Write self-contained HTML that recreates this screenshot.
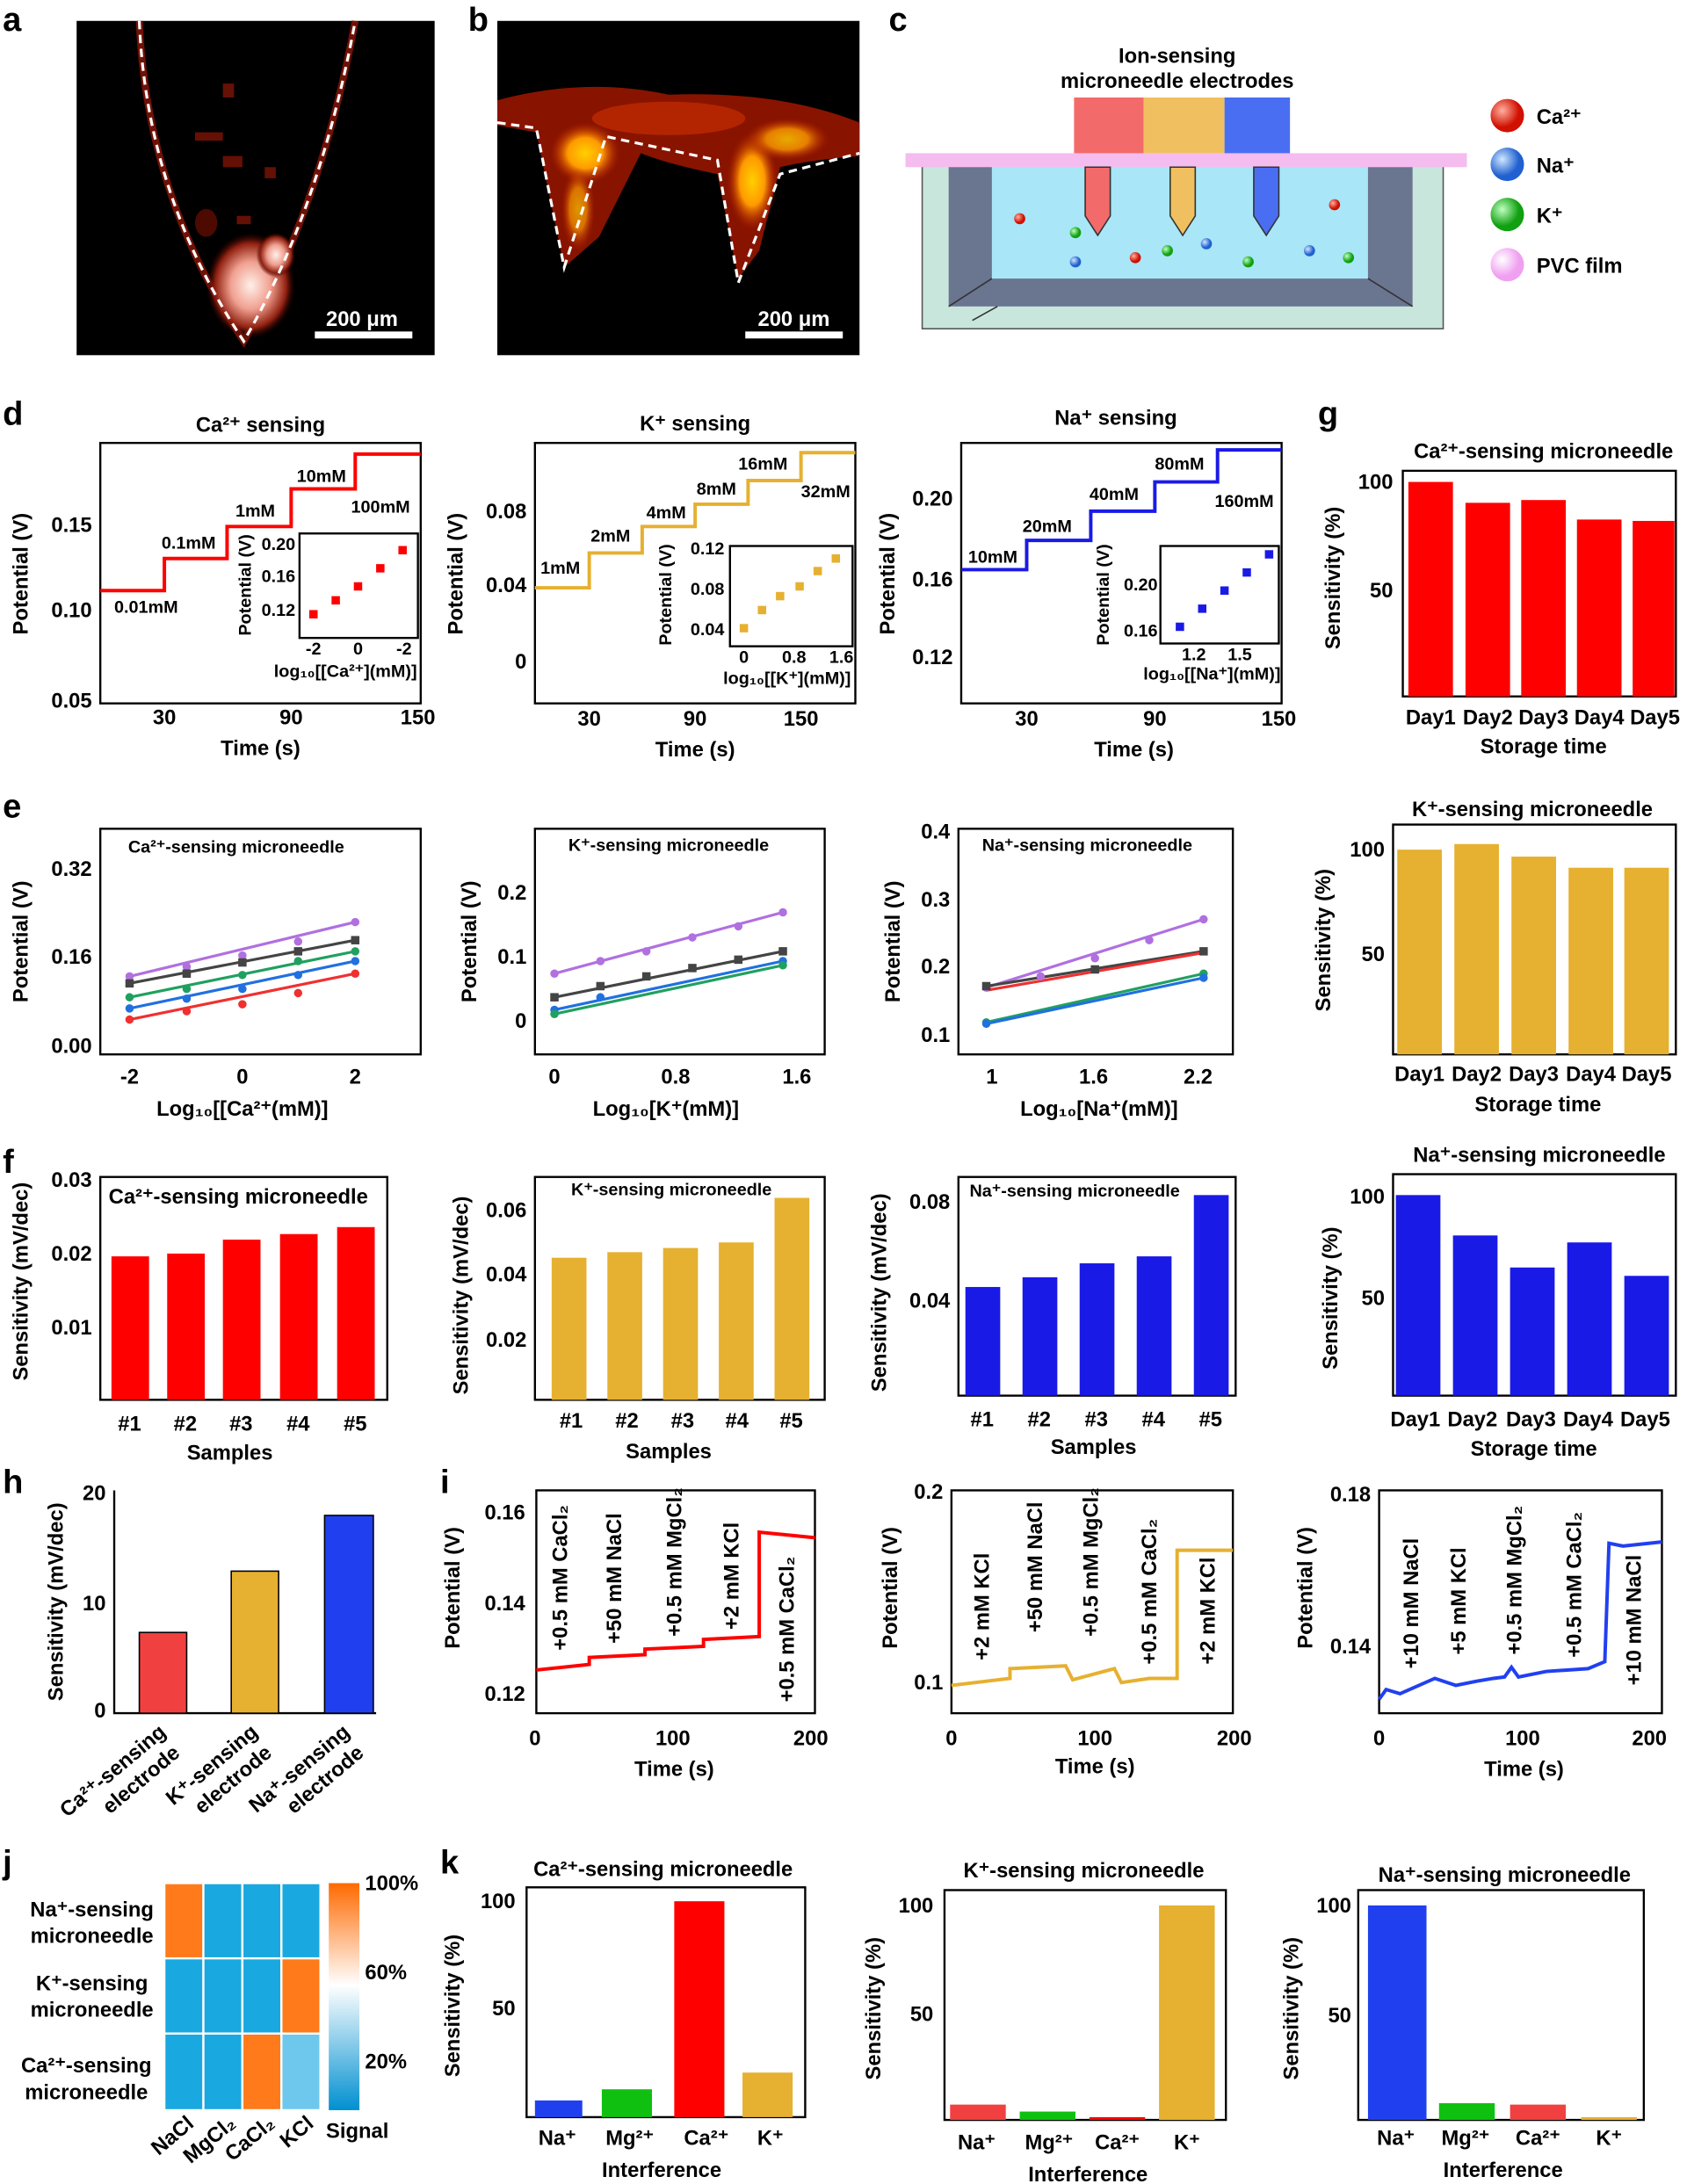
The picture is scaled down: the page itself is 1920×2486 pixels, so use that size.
<!DOCTYPE html>
<html><head><meta charset="utf-8"><style>
html,body{margin:0;padding:0;background:#fff}
svg{display:block}
text{font-family:"Liberation Sans",Arial,sans-serif;font-weight:bold;fill:#000}
.t{font-size:15px}
.s{font-size:12.5px}
.L{font-size:24px}
.ax{fill:none;stroke:#000;stroke-width:1.5}
</style></head><body>
<svg width="1920" height="2486" viewBox="0 0 1211 1568" xmlns="http://www.w3.org/2000/svg">
<defs>
<radialGradient id="glow" cx="50%" cy="50%" r="50%"><stop offset="0" stop-color="#fff5d0"/><stop offset=".35" stop-color="#ff9a20"/><stop offset=".7" stop-color="#c01800"/><stop offset="1" stop-color="#300000" stop-opacity="0"/></radialGradient>
<radialGradient id="wglow" cx="50%" cy="50%" r="50%"><stop offset="0" stop-color="#fff0ea"/><stop offset=".45" stop-color="#f0a090"/><stop offset=".8" stop-color="#902010"/><stop offset="1" stop-color="#300000" stop-opacity="0"/></radialGradient>
<radialGradient id="yglow" cx="50%" cy="50%" r="50%"><stop offset="0" stop-color="#ffd000"/><stop offset=".5" stop-color="#ff9a00"/><stop offset="1" stop-color="#c02000" stop-opacity="0"/></radialGradient>
<radialGradient id="rb" cx="35%" cy="35%"><stop offset="0" stop-color="#ffb0a0"/><stop offset="1" stop-color="#d01000"/></radialGradient>
<radialGradient id="bb" cx="35%" cy="35%"><stop offset="0" stop-color="#d0e8ff"/><stop offset="1" stop-color="#2060d0"/></radialGradient>
<radialGradient id="gb" cx="35%" cy="35%"><stop offset="0" stop-color="#c0ffc0"/><stop offset="1" stop-color="#10a010"/></radialGradient>
<radialGradient id="pb" cx="35%" cy="35%"><stop offset="0" stop-color="#fff"/><stop offset="1" stop-color="#f0a0f0"/></radialGradient>
<linearGradient id="cb" x1="0" y1="0" x2="0" y2="1"><stop offset="0" stop-color="#ff6a00"/><stop offset=".45" stop-color="#fff"/><stop offset="1" stop-color="#0090d0"/></linearGradient>
</defs>

<text class="L" x="2" y="22">a</text><text class="L" x="336" y="22">b</text><text class="L" x="638" y="22">c</text>
<text class="L" x="2" y="305">d</text><text class="L" x="946" y="305">g</text>
<text class="L" x="2" y="587">e</text><text class="L" x="2" y="842">f</text>
<text class="L" x="2" y="1072">h</text><text class="L" x="316" y="1072">i</text>
<text class="L" x="2" y="1345">j</text><text class="L" x="316" y="1345">k</text>

<!-- a -->
<rect x="55" y="15" width="257" height="240" fill="#000"/>
<path d="M100 15 Q105 140 175 245 Q230 150 255 15" fill="none" stroke="#a01808" stroke-width="5" opacity=".7"/>
<ellipse cx="180" cy="205" rx="32" ry="38" fill="url(#wglow)"/>
<ellipse cx="198" cy="183" rx="14" ry="16" fill="url(#wglow)"/>
<ellipse cx="148" cy="160" rx="8" ry="10" fill="#801000" opacity=".6"/>
<g fill="#901808" opacity=".7"><rect x="160" y="60" width="8" height="10"/><rect x="140" y="95" width="20" height="6"/><rect x="190" y="120" width="8" height="8"/><rect x="170" y="155" width="10" height="6"/><rect x="160" y="112" width="14" height="8"/></g>
<path d="M100 15 Q105 140 175 245 Q230 150 255 15" fill="none" stroke="#fff" stroke-width="2" stroke-dasharray="6,4"/>
<rect x="226" y="238" width="70" height="5" fill="#fff"/>
<text x="234" y="234" style="fill:#fff;font-size:15px">200 μm</text>
<!-- b -->
<rect x="357" y="15" width="260" height="240" fill="#000"/>
<path d="M357 72 Q420 55 480 68 Q560 65 617 88 L617 112 Q580 115 560 120 L545 180 L530 200 L515 125 Q480 118 460 110 L430 170 L405 192 L385 95 L357 90Z" fill="#a01800" opacity=".85"/>
<ellipse cx="420" cy="110" rx="25" ry="22" fill="url(#yglow)"/>
<ellipse cx="415" cy="150" rx="12" ry="30" fill="url(#yglow)" opacity=".7"/>
<ellipse cx="540" cy="130" rx="18" ry="35" fill="url(#yglow)"/>
<ellipse cx="565" cy="100" rx="30" ry="15" fill="url(#yglow)" opacity=".8"/>
<ellipse cx="480" cy="85" rx="55" ry="12" fill="#d03000" opacity=".6"/>
<path d="M357 88 L385 92 L405 192 L435 98 L515 115 L530 203 L560 125 L617 110" fill="none" stroke="#fff" stroke-width="2" stroke-dasharray="6,4"/>
<rect x="535" y="238" width="70" height="5" fill="#fff"/>
<text x="544" y="234" style="fill:#fff;font-size:15px">200 μm</text>
<!-- c -->
<rect x="662" y="118" width="374" height="118" fill="#c8e6dc" stroke="#555"/>
<rect x="681" y="118" width="333" height="102" fill="#6a7590"/>
<rect x="712" y="118" width="270" height="82" fill="#a8e6f8"/>
<path d="M681 220 L712 200 M1014 220 L982 200 M698 230 L716 220" stroke="#333"/>
<rect x="650" y="110" width="403" height="10" fill="#f4bcef"/>
<rect x="771" y="70" width="50" height="40" fill="#f26a6a"/><rect x="821" y="70" width="58" height="40" fill="#f0c060"/><rect x="879" y="70" width="47" height="40" fill="#4a6ef2"/>
<path d="M779 120 h18 v35 l-9 14 l-9 -14z" fill="#f26a6a" stroke="#333"/>
<path d="M840 120 h18 v35 l-9 14 l-9 -14z" fill="#f0c060" stroke="#333"/>
<path d="M900 120 h18 v35 l-9 14 l-9 -14z" fill="#4a6ef2" stroke="#333"/>
<text class="t" x="845" y="45" text-anchor="middle">Ion-sensing</text><text class="t" x="845" y="63" text-anchor="middle">microneedle electrodes</text>
<circle cx="732" cy="157" r="4" fill="url(#rb)"/><circle cx="772" cy="167" r="4" fill="url(#gb)"/><circle cx="772" cy="188" r="4" fill="url(#bb)"/><circle cx="815" cy="185" r="4" fill="url(#rb)"/><circle cx="866" cy="175" r="4" fill="url(#bb)"/><circle cx="896" cy="188" r="4" fill="url(#gb)"/><circle cx="958" cy="147" r="4" fill="url(#rb)"/><circle cx="940" cy="180" r="4" fill="url(#bb)"/><circle cx="968" cy="185" r="4" fill="url(#gb)"/><circle cx="838" cy="180" r="4" fill="url(#gb)"/>
<circle cx="1082" cy="83" r="12" fill="url(#rb)"/><circle cx="1082" cy="118" r="12" fill="url(#bb)"/><circle cx="1082" cy="154" r="12" fill="url(#gb)"/><circle cx="1082" cy="190" r="12" fill="url(#pb)"/>
<text class="t" x="1103" y="89">Ca²⁺</text><text class="t" x="1103" y="124">Na⁺</text><text class="t" x="1103" y="160">K⁺</text><text class="t" x="1103" y="196">PVC film</text>

<!-- d Ca -->
<text class="t" x="187" y="310" text-anchor="middle">Ca²⁺ sensing</text>
<rect class="ax" x="72" y="318" width="230" height="187"/>
<g class="t" text-anchor="end"><text x="66" y="382">0.15</text><text x="66" y="443">0.10</text><text x="66" y="508">0.05</text></g>
<g class="t" text-anchor="middle"><text x="118" y="520">30</text><text x="209" y="520">90</text><text x="300" y="520">150</text><text x="187" y="542">Time (s)</text></g>
<text class="t" transform="translate(20,412) rotate(-90)" text-anchor="middle">Potential (V)</text>
<path d="M72 424 H118 V401 H163 V378 H209 V351 H255 V326 H302" fill="none" stroke="#f00" stroke-width="2.5"/>
<g class="s"><text x="82" y="440">0.01mM</text><text x="116" y="394">0.1mM</text><text x="169" y="371">1mM</text><text x="213" y="346">10mM</text><text x="252" y="368">100mM</text></g>
<rect class="ax" x="215" y="383" width="85" height="75" stroke-width="1"/>
<g class="s" text-anchor="end"><text x="212" y="395">0.20</text><text x="212" y="418">0.16</text><text x="212" y="442">0.12</text></g>
<g class="s" text-anchor="middle"><text x="225" y="470">-2</text><text x="257" y="470">0</text><text x="290" y="470">-2</text><text x="248" y="486">log₁₀[[Ca²⁺](mM)]</text></g>
<text class="s" transform="translate(180,420) rotate(-90)" text-anchor="middle">Potential (V)</text>
<g fill="#f00"><rect x="222" y="438" width="6" height="6"/><rect x="238" y="428" width="6" height="6"/><rect x="254" y="418" width="6" height="6"/><rect x="270" y="405" width="6" height="6"/><rect x="286" y="392" width="6" height="6"/></g>

<!-- d K -->
<text class="t" x="499" y="309" text-anchor="middle">K⁺ sensing</text>
<rect class="ax" x="384" y="318" width="230" height="187"/>
<g class="t" text-anchor="end"><text x="378" y="372">0.08</text><text x="378" y="425">0.04</text><text x="378" y="480">0</text></g>
<g class="t" text-anchor="middle"><text x="423" y="521">30</text><text x="499" y="521">90</text><text x="575" y="521">150</text><text x="499" y="543">Time (s)</text></g>
<text class="t" transform="translate(332,412) rotate(-90)" text-anchor="middle">Potential (V)</text>
<path d="M384 422 H423 V397 H461 V378 H499 V362 H537 V345 H575 V325 H614" fill="none" stroke="#e6b030" stroke-width="2.5"/>
<g class="s"><text x="388" y="412">1mM</text><text x="424" y="389">2mM</text><text x="464" y="372">4mM</text><text x="500" y="355">8mM</text><text x="530" y="337">16mM</text><text x="575" y="357">32mM</text></g>
<rect class="ax" x="524" y="392" width="88" height="72" stroke-width="1"/>
<g class="s" text-anchor="end"><text x="520" y="398">0.12</text><text x="520" y="427">0.08</text><text x="520" y="456">0.04</text></g>
<g class="s" text-anchor="middle"><text x="534" y="476">0</text><text x="570" y="476">0.8</text><text x="604" y="476">1.6</text><text x="565" y="491">log₁₀[[K⁺](mM)]</text></g>
<text class="s" transform="translate(482,427) rotate(-90)" text-anchor="middle">Potential (V)</text>
<g fill="#e6b030"><rect x="531" y="448" width="6" height="6"/><rect x="544" y="435" width="6" height="6"/><rect x="557" y="425" width="6" height="6"/><rect x="571" y="418" width="6" height="6"/><rect x="584" y="407" width="6" height="6"/><rect x="597" y="398" width="6" height="6"/></g>

<!-- d Na -->
<text class="t" x="801" y="305" text-anchor="middle">Na⁺ sensing</text>
<rect class="ax" x="690" y="318" width="230" height="187"/>
<g class="t" text-anchor="end"><text x="684" y="363">0.20</text><text x="684" y="421">0.16</text><text x="684" y="477">0.12</text></g>
<g class="t" text-anchor="middle"><text x="737" y="521">30</text><text x="829" y="521">90</text><text x="918" y="521">150</text><text x="814" y="543">Time (s)</text></g>
<text class="t" transform="translate(642,412) rotate(-90)" text-anchor="middle">Potential (V)</text>
<path d="M690 409 H737 V388 H783 V367 H829 V346 H874 V323 H920" fill="none" stroke="#1a1ae6" stroke-width="2.5"/>
<g class="s"><text x="695" y="404">10mM</text><text x="734" y="382">20mM</text><text x="782" y="359">40mM</text><text x="829" y="337">80mM</text><text x="872" y="364">160mM</text></g>
<rect class="ax" x="833" y="392" width="85" height="70" stroke-width="1"/>
<g class="s" text-anchor="end"><text x="831" y="424">0.20</text><text x="831" y="457">0.16</text></g>
<g class="s" text-anchor="middle"><text x="857" y="474">1.2</text><text x="890" y="474">1.5</text><text x="870" y="488">log₁₀[[Na⁺](mM)]</text></g>
<text class="s" transform="translate(796,427) rotate(-90)" text-anchor="middle">Potential (V)</text>
<g fill="#1a1ae6"><rect x="844" y="447" width="6" height="6"/><rect x="860" y="434" width="6" height="6"/><rect x="876" y="421" width="6" height="6"/><rect x="892" y="408" width="6" height="6"/><rect x="908" y="395" width="6" height="6"/></g>

<!-- g1 -->
<text class="t" x="1108" y="329" text-anchor="middle">Ca²⁺-sensing microneedle</text>
<rect class="ax" x="1007" y="338" width="196" height="162"/>
<g class="t" text-anchor="end"><text x="1000" y="351">100</text><text x="1000" y="429">50</text></g>
<text class="t" transform="translate(962,415) rotate(-90)" text-anchor="middle">Sensitivity (%)</text>
<g fill="#f00"><rect x="1011" y="346" width="32" height="154"/><rect x="1052" y="361" width="32" height="139"/><rect x="1092" y="359" width="32" height="141"/><rect x="1132" y="373" width="32" height="127"/><rect x="1172" y="374" width="30" height="126"/></g>
<g class="t" text-anchor="middle"><text x="1027" y="520">Day1</text><text x="1068" y="520">Day2</text><text x="1108" y="520">Day3</text><text x="1148" y="520">Day4</text><text x="1188" y="520">Day5</text><text x="1108" y="541">Storage time</text></g>

<!-- e Ca -->
<rect class="ax" x="72" y="595" width="230" height="162"/>
<text class="s" x="92" y="612">Ca²⁺-sensing microneedle</text>
<g class="t" text-anchor="end"><text x="66" y="629">0.32</text><text x="66" y="692">0.16</text><text x="66" y="756">0.00</text></g>
<g class="t" text-anchor="middle"><text x="93" y="778">-2</text><text x="174" y="778">0</text><text x="255" y="778">2</text><text x="174" y="801">Log₁₀[[Ca²⁺(mM)]</text></g>
<text class="t" transform="translate(20,676) rotate(-90)" text-anchor="middle">Potential (V)</text>
<g stroke-width="2" fill="none"><path d="M93 701 L255 662" stroke="#b070e0"/><path d="M93 706 L255 675" stroke="#444"/><path d="M93 716 L255 683" stroke="#20a060"/><path d="M93 724 L255 690" stroke="#2070e0"/><path d="M93 732 L255 699" stroke="#f03030"/></g>
<g><circle cx="93" cy="701" r="3" fill="#b070e0"/><circle cx="134" cy="694" r="3" fill="#b070e0"/><circle cx="174" cy="686" r="3" fill="#b070e0"/><circle cx="214" cy="676" r="3" fill="#b070e0"/><circle cx="255" cy="662" r="3" fill="#b070e0"/>
<rect x="90" y="703" width="6" height="6" fill="#444"/><rect x="131" y="696" width="6" height="6" fill="#444"/><rect x="171" y="688" width="6" height="6" fill="#444"/><rect x="211" y="680" width="6" height="6" fill="#444"/><rect x="252" y="672" width="6" height="6" fill="#444"/>
<circle cx="93" cy="716" r="3" fill="#20a060"/><circle cx="134" cy="710" r="3" fill="#20a060"/><circle cx="174" cy="700" r="3" fill="#20a060"/><circle cx="214" cy="690" r="3" fill="#20a060"/><circle cx="255" cy="683" r="3" fill="#20a060"/>
<circle cx="93" cy="724" r="3" fill="#2070e0"/><circle cx="134" cy="717" r="3" fill="#2070e0"/><circle cx="174" cy="710" r="3" fill="#2070e0"/><circle cx="214" cy="700" r="3" fill="#2070e0"/><circle cx="255" cy="690" r="3" fill="#2070e0"/>
<circle cx="93" cy="732" r="3" fill="#f03030"/><circle cx="134" cy="726" r="3" fill="#f03030"/><circle cx="174" cy="721" r="3" fill="#f03030"/><circle cx="214" cy="713" r="3" fill="#f03030"/><circle cx="255" cy="699" r="3" fill="#f03030"/></g>

<!-- e K -->
<rect class="ax" x="384" y="595" width="208" height="162"/>
<text class="s" x="408" y="611">K⁺-sensing microneedle</text>
<g class="t" text-anchor="end"><text x="378" y="646">0.2</text><text x="378" y="692">0.1</text><text x="378" y="738">0</text></g>
<g class="t" text-anchor="middle"><text x="398" y="778">0</text><text x="485" y="778">0.8</text><text x="572" y="778">1.6</text><text x="478" y="801">Log₁₀[K⁺(mM)]</text></g>
<text class="t" transform="translate(342,676) rotate(-90)" text-anchor="middle">Potential (V)</text>
<g stroke-width="2" fill="none"><path d="M398 699 L562 655" stroke="#b070e0"/><path d="M398 716 L562 683" stroke="#444"/><path d="M398 725 L562 690" stroke="#2070e0"/><path d="M398 728 L562 693" stroke="#20a060"/></g>
<g><circle cx="398" cy="699" r="3" fill="#b070e0"/><circle cx="431" cy="690" r="3" fill="#b070e0"/><circle cx="464" cy="683" r="3" fill="#b070e0"/><circle cx="497" cy="673" r="3" fill="#b070e0"/><circle cx="530" cy="665" r="3" fill="#b070e0"/><circle cx="562" cy="655" r="3" fill="#b070e0"/>
<rect x="395" y="713" width="6" height="6" fill="#444"/><rect x="428" y="705" width="6" height="6" fill="#444"/><rect x="461" y="698" width="6" height="6" fill="#444"/><rect x="494" y="692" width="6" height="6" fill="#444"/><rect x="527" y="686" width="6" height="6" fill="#444"/><rect x="559" y="680" width="6" height="6" fill="#444"/>
<circle cx="398" cy="725" r="3" fill="#2070e0"/><circle cx="431" cy="716" r="3" fill="#2070e0"/><circle cx="562" cy="690" r="3" fill="#2070e0"/><circle cx="398" cy="728" r="3" fill="#20a060"/><circle cx="562" cy="693" r="3" fill="#20a060"/></g>

<!-- e Na -->
<rect class="ax" x="688" y="595" width="197" height="162"/>
<text class="s" x="705" y="611">Na⁺-sensing microneedle</text>
<g class="t" text-anchor="end"><text x="682" y="602">0.4</text><text x="682" y="651">0.3</text><text x="682" y="699">0.2</text><text x="682" y="748">0.1</text></g>
<g class="t" text-anchor="middle"><text x="712" y="778">1</text><text x="785" y="778">1.6</text><text x="860" y="778">2.2</text><text x="789" y="801">Log₁₀[Na⁺(mM)]</text></g>
<text class="t" transform="translate(646,676) rotate(-90)" text-anchor="middle">Potential (V)</text>
<g stroke-width="2" fill="none"><path d="M708 709 L864 660" stroke="#b070e0"/><path d="M708 708 L864 683" stroke="#444"/><path d="M708 711 L864 684" stroke="#f03030"/><path d="M708 734 L864 699" stroke="#20a060"/><path d="M708 735 L864 702" stroke="#2070e0"/></g>
<g><circle cx="708" cy="709" r="3" fill="#b070e0"/><circle cx="747" cy="701" r="3" fill="#b070e0"/><circle cx="786" cy="688" r="3" fill="#b070e0"/><circle cx="825" cy="675" r="3" fill="#b070e0"/><circle cx="864" cy="660" r="3" fill="#b070e0"/>
<rect x="705" y="705" width="6" height="6" fill="#444"/><rect x="783" y="693" width="6" height="6" fill="#444"/><rect x="861" y="680" width="6" height="6" fill="#444"/>
<circle cx="708" cy="734" r="3" fill="#20a060"/><circle cx="864" cy="699" r="3" fill="#20a060"/><circle cx="708" cy="735" r="3" fill="#2070e0"/><circle cx="864" cy="702" r="3" fill="#2070e0"/></g>

<!-- g2 -->
<text class="t" x="1100" y="586" text-anchor="middle">K⁺-sensing microneedle</text>
<rect class="ax" x="1000" y="592" width="203" height="165"/>
<g class="t" text-anchor="end"><text x="994" y="615">100</text><text x="994" y="690">50</text></g>
<text class="t" transform="translate(955,675) rotate(-90)" text-anchor="middle">Sensitivity (%)</text>
<g fill="#e6b030"><rect x="1003" y="610" width="32" height="147"/><rect x="1044" y="606" width="32" height="151"/><rect x="1085" y="615" width="32" height="142"/><rect x="1126" y="623" width="32" height="134"/><rect x="1166" y="623" width="32" height="134"/></g>
<g class="t" text-anchor="middle"><text x="1019" y="776">Day1</text><text x="1060" y="776">Day2</text><text x="1101" y="776">Day3</text><text x="1142" y="776">Day4</text><text x="1182" y="776">Day5</text><text x="1104" y="798">Storage time</text></g>

<!-- f Ca -->
<rect class="ax" x="72" y="845" width="206" height="160"/>
<text class="t" x="78" y="864">Ca²⁺-sensing microneedle</text>
<g class="t" text-anchor="end"><text x="66" y="852">0.03</text><text x="66" y="905">0.02</text><text x="66" y="958">0.01</text></g>
<text class="t" transform="translate(20,920) rotate(-90)" text-anchor="middle">Sensitivity (mV/dec)</text>
<g fill="#f00"><rect x="80" y="902" width="27" height="103"/><rect x="120" y="900" width="27" height="105"/><rect x="160" y="890" width="27" height="115"/><rect x="201" y="886" width="27" height="119"/><rect x="242" y="881" width="27" height="124"/></g>
<g class="t" text-anchor="middle"><text x="93" y="1027">#1</text><text x="133" y="1027">#2</text><text x="173" y="1027">#3</text><text x="214" y="1027">#4</text><text x="255" y="1027">#5</text><text x="165" y="1048">Samples</text></g>

<!-- f K -->
<rect class="ax" x="384" y="845" width="208" height="160"/>
<text class="s" x="410" y="858">K⁺-sensing microneedle</text>
<g class="t" text-anchor="end"><text x="378" y="874">0.06</text><text x="378" y="920">0.04</text><text x="378" y="967">0.02</text></g>
<text class="t" transform="translate(336,930) rotate(-90)" text-anchor="middle">Sensitivity (mV/dec)</text>
<g fill="#e6b030"><rect x="396" y="903" width="25" height="102"/><rect x="436" y="899" width="25" height="106"/><rect x="476" y="896" width="25" height="109"/><rect x="516" y="892" width="25" height="113"/><rect x="556" y="860" width="25" height="145"/></g>
<g class="t" text-anchor="middle"><text x="410" y="1025">#1</text><text x="450" y="1025">#2</text><text x="490" y="1025">#3</text><text x="529" y="1025">#4</text><text x="568" y="1025">#5</text><text x="480" y="1047">Samples</text></g>

<!-- f Na -->
<rect class="ax" x="688" y="845" width="199" height="157"/>
<text class="s" x="696" y="859">Na⁺-sensing microneedle</text>
<g class="t" text-anchor="end"><text x="682" y="868">0.08</text><text x="682" y="939">0.04</text></g>
<text class="t" transform="translate(636,928) rotate(-90)" text-anchor="middle">Sensitivity (mV/dec)</text>
<g fill="#1a1ae6"><rect x="693" y="924" width="25" height="78"/><rect x="734" y="917" width="25" height="85"/><rect x="775" y="907" width="25" height="95"/><rect x="816" y="902" width="25" height="100"/><rect x="857" y="858" width="25" height="144"/></g>
<g class="t" text-anchor="middle"><text x="705" y="1024">#1</text><text x="746" y="1024">#2</text><text x="787" y="1024">#3</text><text x="828" y="1024">#4</text><text x="869" y="1024">#5</text><text x="785" y="1044">Samples</text></g>

<!-- g3 -->
<text class="t" x="1105" y="834" text-anchor="middle">Na⁺-sensing microneedle</text>
<rect class="ax" x="1000" y="843" width="203" height="159"/>
<g class="t" text-anchor="end"><text x="994" y="864">100</text><text x="994" y="937">50</text></g>
<text class="t" transform="translate(960,932) rotate(-90)" text-anchor="middle">Sensitivity (%)</text>
<g fill="#1a1ae6"><rect x="1002" y="858" width="32" height="144"/><rect x="1043" y="887" width="32" height="115"/><rect x="1084" y="910" width="32" height="92"/><rect x="1125" y="892" width="32" height="110"/><rect x="1166" y="916" width="32" height="86"/></g>
<g class="t" text-anchor="middle"><text x="1016" y="1024">Day1</text><text x="1057" y="1024">Day2</text><text x="1099" y="1024">Day3</text><text x="1140" y="1024">Day4</text><text x="1181" y="1024">Day5</text><text x="1101" y="1045">Storage time</text></g>

<!-- h -->
<path class="ax" d="M82 1070 V1230 H270"/>
<g class="t" text-anchor="end"><text x="76" y="1077">20</text><text x="76" y="1156">10</text><text x="76" y="1233">0</text></g>
<text class="t" transform="translate(45,1150) rotate(-90)" text-anchor="middle">Sensitivity (mV/dec)</text>
<rect x="100" y="1172" width="34" height="58" fill="#f04040" stroke="#000"/><rect x="166" y="1128" width="34" height="102" fill="#e6b030" stroke="#000"/><rect x="233" y="1088" width="35" height="142" fill="#2040f0" stroke="#000"/>
<g class="t" text-anchor="end"><text transform="translate(120,1245) rotate(-40)">Ca²⁺-sensing</text><text transform="translate(130,1260) rotate(-40)">electrode</text>
<text transform="translate(186,1245) rotate(-40)">K⁺-sensing</text><text transform="translate(196,1260) rotate(-40)">electrode</text>
<text transform="translate(252,1245) rotate(-40)">Na⁺-sensing</text><text transform="translate(262,1260) rotate(-40)">electrode</text></g>

<!-- i Ca -->
<rect class="ax" x="385" y="1070" width="200" height="160"/>
<g class="t" text-anchor="end"><text x="377" y="1091">0.16</text><text x="377" y="1156">0.14</text><text x="377" y="1221">0.12</text></g>
<g class="t" text-anchor="middle"><text x="384" y="1253">0</text><text x="483" y="1253">100</text><text x="582" y="1253">200</text><text x="484" y="1275">Time (s)</text></g>
<text class="t" transform="translate(330,1140) rotate(-90)" text-anchor="middle">Potential (V)</text>
<path d="M385 1199 L423 1195 V1190 L463 1188 V1184 L505 1182 V1177 L545 1175 V1100 L585 1104" fill="none" stroke="#f00" stroke-width="2.5"/>
<g class="t"><text transform="translate(407,1185) rotate(-90)">+0.5 mM CaCl₂</text><text transform="translate(446,1180) rotate(-90)">+50 mM NaCl</text><text transform="translate(489,1175) rotate(-90)">+0.5 mM MgCl₂</text><text transform="translate(530,1170) rotate(-90)">+2 mM KCl</text><text transform="translate(570,1222) rotate(-90)">+0.5 mM CaCl₂</text></g>

<!-- i K -->
<rect class="ax" x="683" y="1070" width="202" height="160"/>
<g class="t" text-anchor="end"><text x="677" y="1076">0.2</text><text x="677" y="1213">0.1</text></g>
<g class="t" text-anchor="middle"><text x="683" y="1253">0</text><text x="786" y="1253">100</text><text x="886" y="1253">200</text><text x="786" y="1273">Time (s)</text></g>
<text class="t" transform="translate(644,1140) rotate(-90)" text-anchor="middle">Potential (V)</text>
<path d="M683 1210 L725 1205 V1198 L765 1196 L770 1206 L785 1202 L800 1198 L805 1208 L825 1205 L845 1205 V1113 L885 1113" fill="none" stroke="#e6b030" stroke-width="2.5"/>
<g class="t"><text transform="translate(710,1192) rotate(-90)">+2 mM KCl</text><text transform="translate(748,1172) rotate(-90)">+50 mM NaCl</text><text transform="translate(788,1175) rotate(-90)">+0.5 mM MgCl₂</text><text transform="translate(830,1195) rotate(-90)">+0.5 mM CaCl₂</text><text transform="translate(872,1195) rotate(-90)">+2 mM KCl</text></g>

<!-- i Na -->
<rect class="ax" x="990" y="1070" width="203" height="160"/>
<g class="t" text-anchor="end"><text x="984" y="1078">0.18</text><text x="984" y="1187">0.14</text></g>
<g class="t" text-anchor="middle"><text x="990" y="1253">0</text><text x="1093" y="1253">100</text><text x="1184" y="1253">200</text><text x="1094" y="1275">Time (s)</text></g>
<text class="t" transform="translate(942,1140) rotate(-90)" text-anchor="middle">Potential (V)</text>
<path d="M990 1220 L995 1213 L1005 1216 L1030 1205 L1045 1210 L1060 1207 L1072 1205 L1080 1204 L1085 1197 L1090 1204 L1110 1200 L1140 1198 L1152 1193 L1155 1108 L1165 1110 L1193 1107" fill="none" stroke="#2040f0" stroke-width="2.5"/>
<g class="t"><text transform="translate(1018,1198) rotate(-90)">+10 mM NaCl</text><text transform="translate(1052,1188) rotate(-90)">+5 mM KCl</text><text transform="translate(1092,1188) rotate(-90)">+0.5 mM MgCl₂</text><text transform="translate(1135,1190) rotate(-90)">+0.5 mM CaCl₂</text><text transform="translate(1178,1210) rotate(-90)">+10 mM NaCl</text></g>

<!-- j -->
<g stroke="#fff" stroke-width="1.5">
<rect x="118" y="1352" width="28" height="54" fill="#ff7a1a"/><rect x="146" y="1352" width="28" height="54" fill="#1aa8e0"/><rect x="174" y="1352" width="28" height="54" fill="#1aa8e0"/><rect x="202" y="1352" width="28" height="54" fill="#1aa8e0"/>
<rect x="118" y="1406" width="28" height="54" fill="#1aa8e0"/><rect x="146" y="1406" width="28" height="54" fill="#1aa8e0"/><rect x="174" y="1406" width="28" height="54" fill="#1aa8e0"/><rect x="202" y="1406" width="28" height="54" fill="#ff7a1a"/>
<rect x="118" y="1460" width="28" height="55" fill="#1aa8e0"/><rect x="146" y="1460" width="28" height="55" fill="#1aa8e0"/><rect x="174" y="1460" width="28" height="55" fill="#ff7a1a"/><rect x="202" y="1460" width="28" height="55" fill="#6ec8ee"/></g>
<rect x="236" y="1352" width="22" height="163" fill="url(#cb)"/>
<g class="t"><text x="262" y="1357">100%</text><text x="262" y="1421">60%</text><text x="262" y="1485">20%</text><text x="234" y="1535">Signal</text></g>
<g class="t" text-anchor="middle"><text x="66" y="1376">Na⁺-sensing</text><text x="66" y="1395">microneedle</text><text x="66" y="1429">K⁺-sensing</text><text x="66" y="1448">microneedle</text><text x="62" y="1488">Ca²⁺-sensing</text><text x="62" y="1507">microneedle</text></g>
<g class="t" text-anchor="end"><text transform="translate(140,1526) rotate(-40)">NaCl</text><text transform="translate(170,1526) rotate(-40)">MgCl₂</text><text transform="translate(198,1526) rotate(-40)">CaCl₂</text><text transform="translate(226,1526) rotate(-40)">KCl</text></g>

<!-- k Ca -->
<text class="t" x="476" y="1347" text-anchor="middle">Ca²⁺-sensing microneedle</text>
<rect class="ax" x="378" y="1355" width="200" height="165"/>
<g class="t" text-anchor="end"><text x="370" y="1370">100</text><text x="370" y="1447">50</text></g>
<text class="t" transform="translate(330,1440) rotate(-90)" text-anchor="middle">Sensitivity (%)</text>
<rect x="384" y="1508" width="34" height="12" fill="#2040f0"/><rect x="432" y="1500" width="36" height="20" fill="#10c010"/><rect x="484" y="1365" width="36" height="155" fill="#f00"/><rect x="533" y="1488" width="36" height="32" fill="#e6b030"/>
<g class="t" text-anchor="middle"><text x="400" y="1540">Na⁺</text><text x="452" y="1540">Mg²⁺</text><text x="507" y="1540">Ca²⁺</text><text x="553" y="1540">K⁺</text><text x="475" y="1563">Interference</text></g>

<!-- k K -->
<text class="t" x="778" y="1348" text-anchor="middle">K⁺-sensing microneedle</text>
<rect class="ax" x="678" y="1357" width="202" height="165"/>
<g class="t" text-anchor="end"><text x="670" y="1373">100</text><text x="670" y="1451">50</text></g>
<text class="t" transform="translate(632,1442) rotate(-90)" text-anchor="middle">Sensitivity (%)</text>
<rect x="682" y="1511" width="40" height="11" fill="#f04040"/><rect x="732" y="1516" width="40" height="6" fill="#10c010"/><rect x="782" y="1520" width="40" height="2" fill="#f00"/><rect x="832" y="1368" width="40" height="154" fill="#e6b030"/>
<g class="t" text-anchor="middle"><text x="701" y="1543">Na⁺</text><text x="753" y="1543">Mg²⁺</text><text x="802" y="1543">Ca²⁺</text><text x="852" y="1543">K⁺</text><text x="781" y="1566">Interference</text></g>

<!-- k Na -->
<text class="t" x="1080" y="1351" text-anchor="middle">Na⁺-sensing microneedle</text>
<rect class="ax" x="975" y="1357" width="205" height="165"/>
<g class="t" text-anchor="end"><text x="970" y="1373">100</text><text x="970" y="1452">50</text></g>
<text class="t" transform="translate(932,1442) rotate(-90)" text-anchor="middle">Sensitivity (%)</text>
<rect x="982" y="1368" width="42" height="154" fill="#2040f0"/><rect x="1033" y="1510" width="40" height="12" fill="#10c010"/><rect x="1084" y="1511" width="40" height="11" fill="#f04040"/><rect x="1135" y="1520" width="40" height="2" fill="#e6b030"/>
<g class="t" text-anchor="middle"><text x="1002" y="1540">Na⁺</text><text x="1052" y="1540">Mg²⁺</text><text x="1104" y="1540">Ca²⁺</text><text x="1155" y="1540">K⁺</text><text x="1079" y="1563">Interference</text></g>
</svg>
</body></html>
